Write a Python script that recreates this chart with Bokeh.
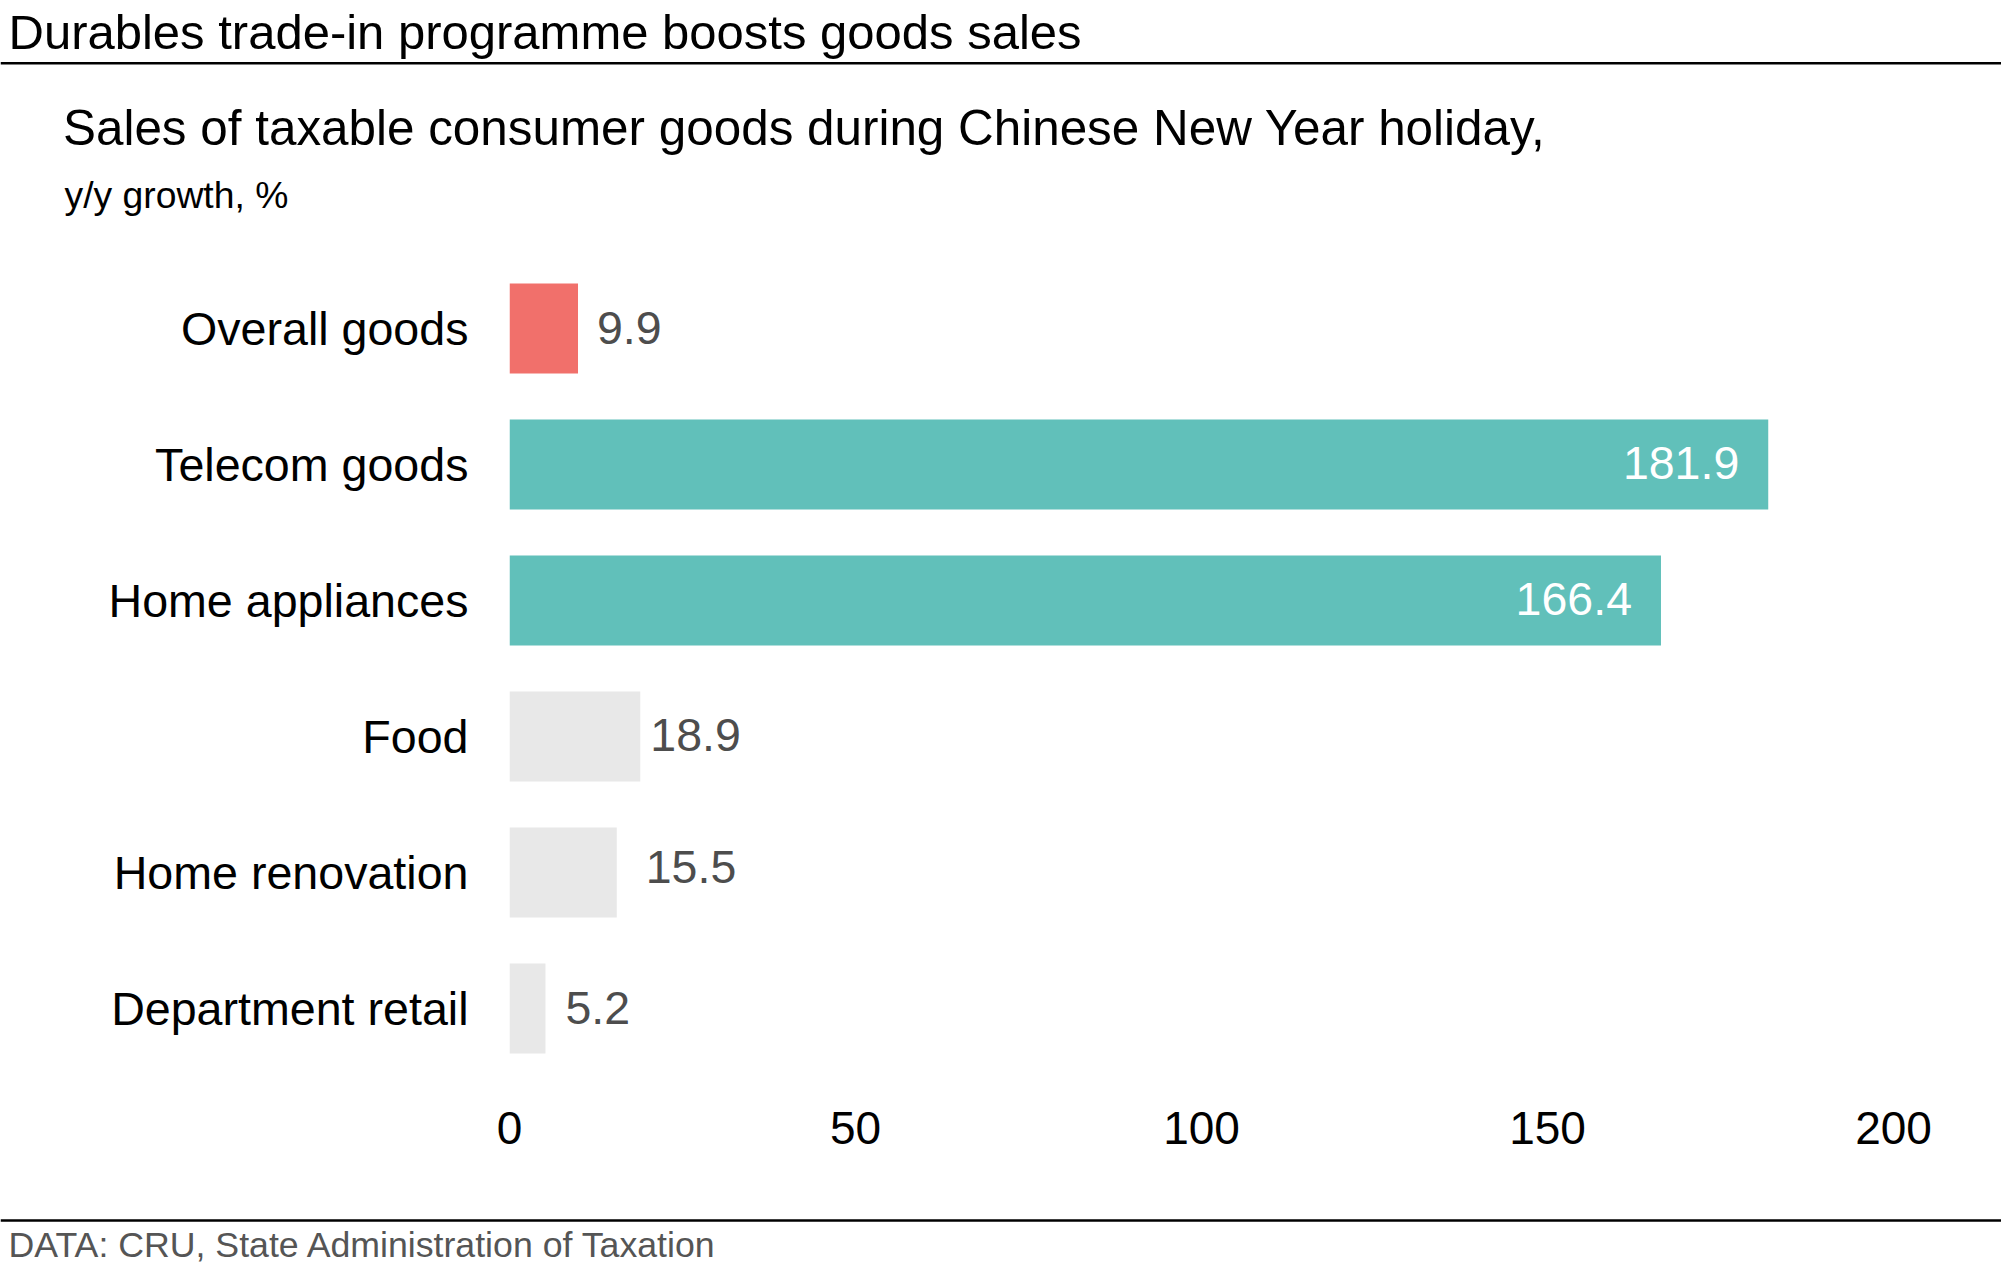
from bokeh.plotting import figure
from bokeh.models import ColumnDataSource, Range1d, FactorRange, FixedTicker
from bokeh.layouts import column
from bokeh.core.properties import value
from bokeh.embed import file_html
from bokeh.resources import INLINE

# ---- data ----
categories = ["Overall goods", "Telecom goods", "Home appliances", "Food",
              "Home renovation", "Department retail"]
growth = [9.9, 181.9, 166.4, 18.9, 15.5, 5.2]
x_ticks = [0, 50, 100, 150, 200]

title = "Durables trade-in programme boosts goods sales"
subtitle = "Sales of taxable consumer goods during Chinese New Year holiday,"
unit_note = "y/y growth, %"
source_note = "DATA: CRU, State Administration of Taxation"

# ---- styles ----
bar_colors = ["#F1706B", "#61C0BA", "#61C0BA", "#E8E8E8", "#E8E8E8", "#E8E8E8"]
label_inside = [False, True, True, False, False, False]
label_dx = [19, -29, -29, 10, 29, 20]
label_dy = [-1, -2, -2, -2, -6, -1]
FONT = "Liberation Sans"
W = 2001

# ---- header ----
HH = 260
h = figure(width=W, height=HH, x_range=Range1d(0, W), y_range=Range1d(HH, 0),
           output_backend="svg", toolbar_location=None, min_border=0,
           frame_align=False)
h.axis.visible = False
h.grid.visible = False
h.outline_line_color = None
h.text(x=[8], y=[31.5], text=[title], text_font=value(FONT), text_font_size="49px",
       text_color="#000000", text_baseline="middle")
h.segment(x0=[0], y0=[62.7], x1=[W], y1=[62.7], line_width=2.5, line_color="#000000")
h.text(x=[62.5], y=[127], text=[subtitle], text_font=value(FONT), text_font_size="49.4px",
       text_color="#000000", text_baseline="middle")
h.text(x=[64], y=[194], text=[unit_note], text_font=value(FONT), text_font_size="37.3px",
       text_color="#000000", text_baseline="middle")

# ---- main chart ----
src = ColumnDataSource(dict(cat=categories, val=growth, color=bar_colors))

p = figure(width=W, height=940, y_range=FactorRange(factors=categories[::-1]),
           x_range=Range1d(0, 200), output_backend="svg", toolbar_location=None,
           min_border_left=509, min_border_right=108, min_border_top=0,
           min_border_bottom=124, frame_align=False)
p.hbar(y="cat", left=0, right="val", height=0.66, fill_color="color",
       line_color=None, source=src)

out_idx = [i for i in range(len(categories)) if not label_inside[i]]
in_idx = [i for i in range(len(categories)) if label_inside[i]]
src_out = ColumnDataSource(dict(
    cat=[categories[i] for i in out_idx], val=[growth[i] for i in out_idx],
    lbl=[f"{growth[i]:.1f}" for i in out_idx],
    dx=[label_dx[i] for i in out_idx], dy=[label_dy[i] for i in out_idx]))
src_in = ColumnDataSource(dict(
    cat=[categories[i] for i in in_idx], val=[growth[i] for i in in_idx],
    lbl=[f"{growth[i]:.1f}" for i in in_idx],
    dx=[label_dx[i] for i in in_idx], dy=[label_dy[i] for i in in_idx]))
p.text(x="val", y="cat", text="lbl", x_offset="dx", y_offset="dy", source=src_out,
       text_font=value(FONT), text_font_size="46.5px", text_color="#4D4D4D",
       text_align="left", text_baseline="middle")
p.text(x="val", y="cat", text="lbl", x_offset="dx", y_offset="dy", source=src_in,
       text_font=value(FONT), text_font_size="46.5px", text_color="#FFFFFF",
       text_align="right", text_baseline="middle")

p.grid.visible = False
p.outline_line_color = None
p.xaxis.ticker = FixedTicker(ticks=x_ticks)
for ax in (p.xaxis, p.yaxis):
    ax.axis_line_color = None
    ax.major_tick_line_color = None
    ax.minor_tick_line_color = None
    ax.major_tick_out = 0
    ax.major_tick_in = 0
    ax.major_label_text_font = FONT
    ax.major_label_text_color = "#000000"
p.xaxis.major_label_text_font_size = "46px"
p.yaxis.major_label_text_font_size = "46.6px"
p.xaxis.major_label_standoff = 35
p.yaxis.major_label_standoff = 41

# ---- footer ----
FH = 64
f = figure(width=W, height=FH, x_range=Range1d(0, W), y_range=Range1d(FH, 0),
           output_backend="svg", toolbar_location=None, min_border=0,
           frame_align=False)
f.axis.visible = False
f.grid.visible = False
f.outline_line_color = None
f.segment(x0=[0], y0=[20], x1=[W], y1=[20], line_width=2.5, line_color="#000000")
f.text(x=[8], y=[44], text=[source_note], text_font=value(FONT), text_font_size="35.7px",
       text_color="#555555", text_baseline="middle")

layout = column(h, p, f, spacing=0)
open("out.html", "w").write(file_html(layout, INLINE))
